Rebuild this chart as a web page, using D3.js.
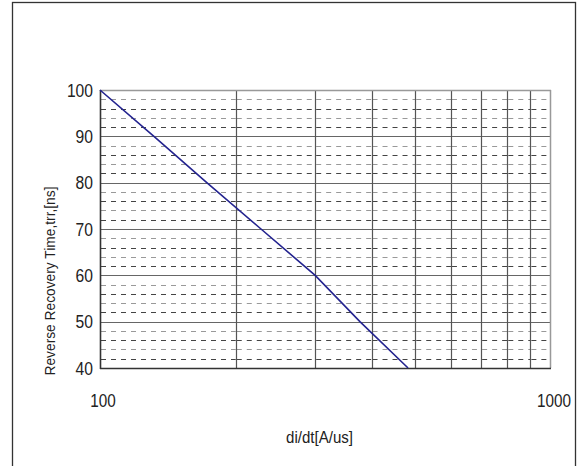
<!DOCTYPE html>
<html><head><meta charset="utf-8">
<script src="https://cdn.jsdelivr.net/npm/d3@7"></script>
<style>
body{margin:0;background:#fff;}
text{font-family:"Liberation Sans",Arial,sans-serif;fill:#222;}
</style></head>
<body><svg id="c" width="581" height="466"></svg>
<script>
const diDt = [100, 131.7, 172.5, 227.5, 300, 377, 482];
const trr  = [100, 90, 80, 70, 60, 50, 40];
const xTickLabels = [100, 1000];
const yTickLabels = [40, 50, 60, 70, 80, 90, 100];
const xGrid = [200, 300, 400, 500, 600, 700, 800, 900];
const yMinor = [42,44,46,48,52,54,56,58,62,64,66,68,72,74,76,78,82,84,86,88,92,94,96,98];
const xTitle = "di/dt[A/us]";
const yTitle = "Reverse Recovery Time,trr,[ns]";

const svg = d3.select("#c");
const L = 100, R = 551, T = 90, B = 368;
const x = d3.scaleLog().domain([100, 1000]).range([L, R]);
const y = d3.scaleLinear().domain([40, 100]).range([B, T]);

// outer frame
svg.append("rect").attr("x", 12.5).attr("y", 2.5).attr("width", 563).attr("height", 470)
  .attr("fill", "none").attr("stroke", "#333").attr("stroke-width", 1.3);

const g = svg.append("g");
// minor dashed horizontal lines, restarted in each cell
const xs = [100].concat(xGrid).concat([1000]);
for (let i = 0; i < xs.length - 1; i++) {
  g.selectAll(null).data(yMinor).enter().append("line")
    .attr("x1", x(xs[i]) + 1).attr("x2", x(xs[i + 1]))
    .attr("y1", d => Math.round(y(d)) + 0.5).attr("y2", d => Math.round(y(d)) + 0.5)
    .attr("stroke", (d, j) => j % 2 ? "#999" : "#444").attr("stroke-width", 1)
    .attr("stroke-dasharray", "5,5");
}
// major horizontal grid
g.selectAll(null).data(yTickLabels.filter(d => d > 40 && d < 100)).enter().append("line")
  .attr("x1", L).attr("x2", R).attr("y1", d => Math.round(y(d)) + 0.5).attr("y2", d => Math.round(y(d)) + 0.5)
  .attr("stroke", "#666").attr("stroke-width", 1.2);
// vertical grid
g.selectAll(null).data(xGrid).enter().append("line")
  .attr("x1", d => Math.round(x(d)) + 0.5).attr("x2", d => Math.round(x(d)) + 0.5)
  .attr("y1", T).attr("y2", B)
  .attr("stroke", "#555").attr("stroke-width", 1.2);
// plot border
g.append("line").attr("x1", L).attr("x2", R).attr("y1", T + 0.5).attr("y2", T + 0.5).attr("stroke", "#999").attr("stroke-width", 1.5);
g.append("line").attr("x1", R - 0.5).attr("x2", R - 0.5).attr("y1", T).attr("y2", B).attr("stroke", "#999").attr("stroke-width", 1.5);
g.append("line").attr("x1", L).attr("x2", R).attr("y1", B + 0.5).attr("y2", B + 0.5).attr("stroke", "#333").attr("stroke-width", 1.6);
g.append("line").attr("x1", L + 0.5).attr("x2", L + 0.5).attr("y1", T).attr("y2", B + 1).attr("stroke", "#333").attr("stroke-width", 1.6);

// data line
const pts = diDt.map((d, i) => [d, trr[i]]);
svg.append("path").datum(pts)
  .attr("d", d3.line().x(d => x(d[0])).y(d => y(d[1])))
  .attr("fill", "none").attr("stroke", "#23238f").attr("stroke-width", 1.6);

// y tick labels
svg.selectAll(null).data(yTickLabels).enter().append("text")
  .attr("x", 93).attr("y", d => y(d) + 6.5).attr("text-anchor", "end")
  .attr("font-size", 18).attr("textLength", d => String(d).length * 8.7).attr("lengthAdjust", "spacingAndGlyphs")
  .text(d => d);
// x tick labels
svg.selectAll(null).data(xTickLabels).enter().append("text")
  .attr("x", d => x(d) + 3).attr("y", 407).attr("text-anchor", "middle")
  .attr("font-size", 18).attr("textLength", d => String(d).length * 8.5).attr("lengthAdjust", "spacingAndGlyphs")
  .text(d => d);
// titles
svg.append("text").attr("x", 319.5).attr("y", 443).attr("text-anchor", "middle")
  .attr("font-size", 17).attr("textLength", 67).attr("lengthAdjust", "spacingAndGlyphs").text(xTitle);
svg.append("text").attr("transform", "translate(54.5,281) rotate(-90)").attr("text-anchor", "middle")
  .attr("font-size", 15).attr("textLength", 189).attr("lengthAdjust", "spacingAndGlyphs").text(yTitle);
</script></body></html>
